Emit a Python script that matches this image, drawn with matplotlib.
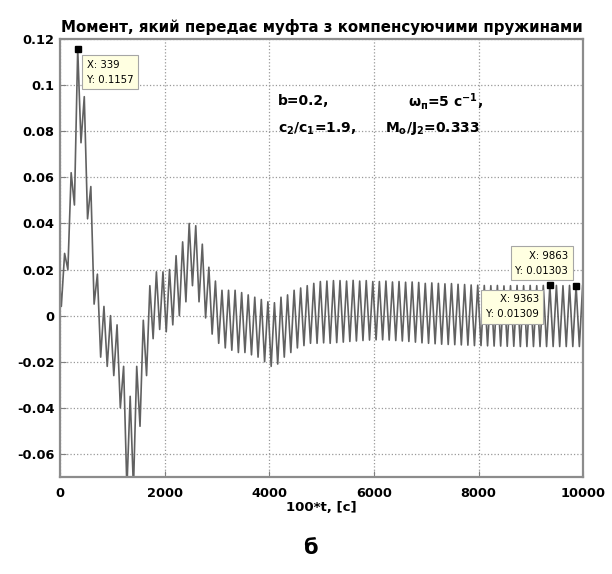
import numpy as np
import matplotlib.pyplot as plt

plt.rcParams['font.family'] = ['DejaVu Sans']
plt.rcParams['font.weight'] = 'bold'
plt.rcParams['axes.unicode_minus'] = False
plt.rcParams['mathtext.default'] = 'regular'

# Oscillation extremes, one value per cycle.
# Peaks are spaced by the oscillation period, troughs sit half a period before each peak.
first_peak = 339      # x of the labelled maximum
period = 125.32       # x-distance between neighbouring peaks (9863 - 339) / 76
start_value = 0.012

peaks = [0.027, 0.062, 0.1157, 0.095, 0.056, 0.018, 0.004, 0.000, -0.004, -0.022,
         -0.035, -0.022, -0.002, 0.013, 0.019, 0.019, 0.020, 0.026, 0.032, 0.040,
         0.039, 0.031, 0.021, 0.015, 0.011, 0.011, 0.011, 0.010, 0.009, 0.008,
         0.007, 0.006, 0.0056, 0.008, 0.009, 0.011, 0.012, 0.013, 0.014, 0.0148,
         0.015, 0.0152, 0.0152, 0.015, 0.0153, 0.015, 0.0152, 0.0148,
         0.0148, 0.015, 0.0146, 0.0148, 0.0145, 0.0146, 0.0144, 0.014,
         0.0142, 0.014, 0.0138, 0.0139, 0.0136, 0.0135, 0.0133, 0.0132,
         0.0131, 0.013, 0.0131, 0.0129, 0.013, 0.0131, 0.013, 0.0131,
         0.013, 0.0131, 0.01309, 0.0131, 0.013, 0.0131, 0.01303, 0.013]

troughs = [0.004, 0.020, 0.048, 0.075, 0.042, 0.005, -0.018, -0.022, -0.026, -0.040,
           -0.075, -0.075, -0.048, -0.026, -0.010, -0.006, -0.007, -0.004, 0.000, 0.006,
           0.013, 0.006, -0.001, -0.008, -0.012, -0.014, -0.015, -0.016, -0.016, -0.017,
           -0.018, -0.020, -0.022, -0.021, -0.018, -0.016, -0.014, -0.013, -0.012, -0.012,
           -0.0118, -0.012, -0.0117, -0.0115, -0.0112, -0.011, -0.0108, -0.0106,
           -0.0105, -0.0105, -0.0106, -0.0108, -0.011, -0.0112, -0.0115, -0.0118,
           -0.012, -0.0122, -0.0124, -0.0125, -0.0126, -0.0127, -0.0128, -0.013,
           -0.013, -0.0131, -0.0132, -0.0132, -0.0133, -0.0133, -0.0134, -0.0134,
           -0.0134, -0.0134, -0.0134, -0.0134, -0.0134, -0.0134, -0.0134, -0.0134]

# data tips shown on the chart
tip_x = [339, 9363, 9863]
tip_y = [0.1157, 0.01309, 0.01303]

x_ticks = [0, 2000, 4000, 6000, 8000, 10000]
y_ticks = [-0.06, -0.04, -0.02, 0, 0.02, 0.04, 0.06, 0.08, 0.1, 0.12]
y_labels = ['-0.06', '-0.04', '-0.02', '0', '0.02', '0.04', '0.06', '0.08', '0.1', '0.12']

# interleave troughs and peaks into one line
t_peak = first_peak + period * (np.arange(len(peaks)) - 2)
t_trough = t_peak - period / 2
t = np.concatenate([[0], np.column_stack([t_trough, t_peak]).ravel()])
y = np.concatenate([[start_value], np.column_stack([troughs, peaks]).ravel()])

fig = plt.figure(figsize=(6.12, 5.74), dpi=100)
ax = fig.add_axes([0.098, 0.169, 0.855, 0.763])

ax.plot(t, y, color='0.38', lw=1.2)

ax.set_xlim(0, 10000)
ax.set_ylim(-0.07, 0.12)
ax.set_xticks(x_ticks)
ax.set_xticklabels([str(v) for v in x_ticks])
ax.set_yticks(y_ticks)
ax.set_yticklabels(y_labels)
ax.tick_params(direction='in', labelsize=9.3, length=4, color='0.5')
ax.tick_params(axis='x', pad=7)
ax.tick_params(axis='y', pad=4)
for s in ax.spines.values():
    s.set_color('0.55')
    s.set_linewidth(1.6)
ax.grid(True, linestyle=':', color='0.6', linewidth=0.9)

ax.set_title('Момент, який передає муфта з компенсуючими пружинами',
             fontsize=10.8, fontweight='bold', pad=5)
ax.set_xlabel('100*t, [c]', fontsize=9.5, fontweight='bold', labelpad=1)

# parameter block
ax.text(4160, 0.093, 'b=0.2,', fontsize=10, va='center', ha='left')
ax.text(4160, 0.081, 'c$_2$/c$_1$=1.9,', fontsize=10, va='center', ha='left')
ax.text(8090, 0.093, 'ω$_п$=5 с$^{-1}$,', fontsize=10, va='center', ha='right')
ax.text(8030, 0.081, 'M$_o$/J$_2$=0.333', fontsize=10, va='center', ha='right')

# data tips
ax.plot(tip_x, tip_y, 's', color='black', ms=5)
box = dict(boxstyle='square,pad=0.45', fc='#ffffe1', ec='0.65', lw=0.8)
offsets = [((9, -11), 'left', 'top'), ((-11, -9), 'right', 'top'),
           ((-8, 10), 'right', 'bottom')]
for xv, yv, (off, ha, va) in zip(tip_x, tip_y, offsets):
    ax.annotate('X: %g\nY: %s' % (xv, ('%.4g' % yv)), (xv, yv), xytext=off,
                textcoords='offset pixels', ha=ha, va=va, fontsize=7.3,
                fontweight='normal', bbox=box, linespacing=1.6)

fig.text(0.508, 0.045, 'б', fontsize=15, fontweight='bold', ha='center', va='center')

fig.savefig('out.png', dpi=100, facecolor='white')
